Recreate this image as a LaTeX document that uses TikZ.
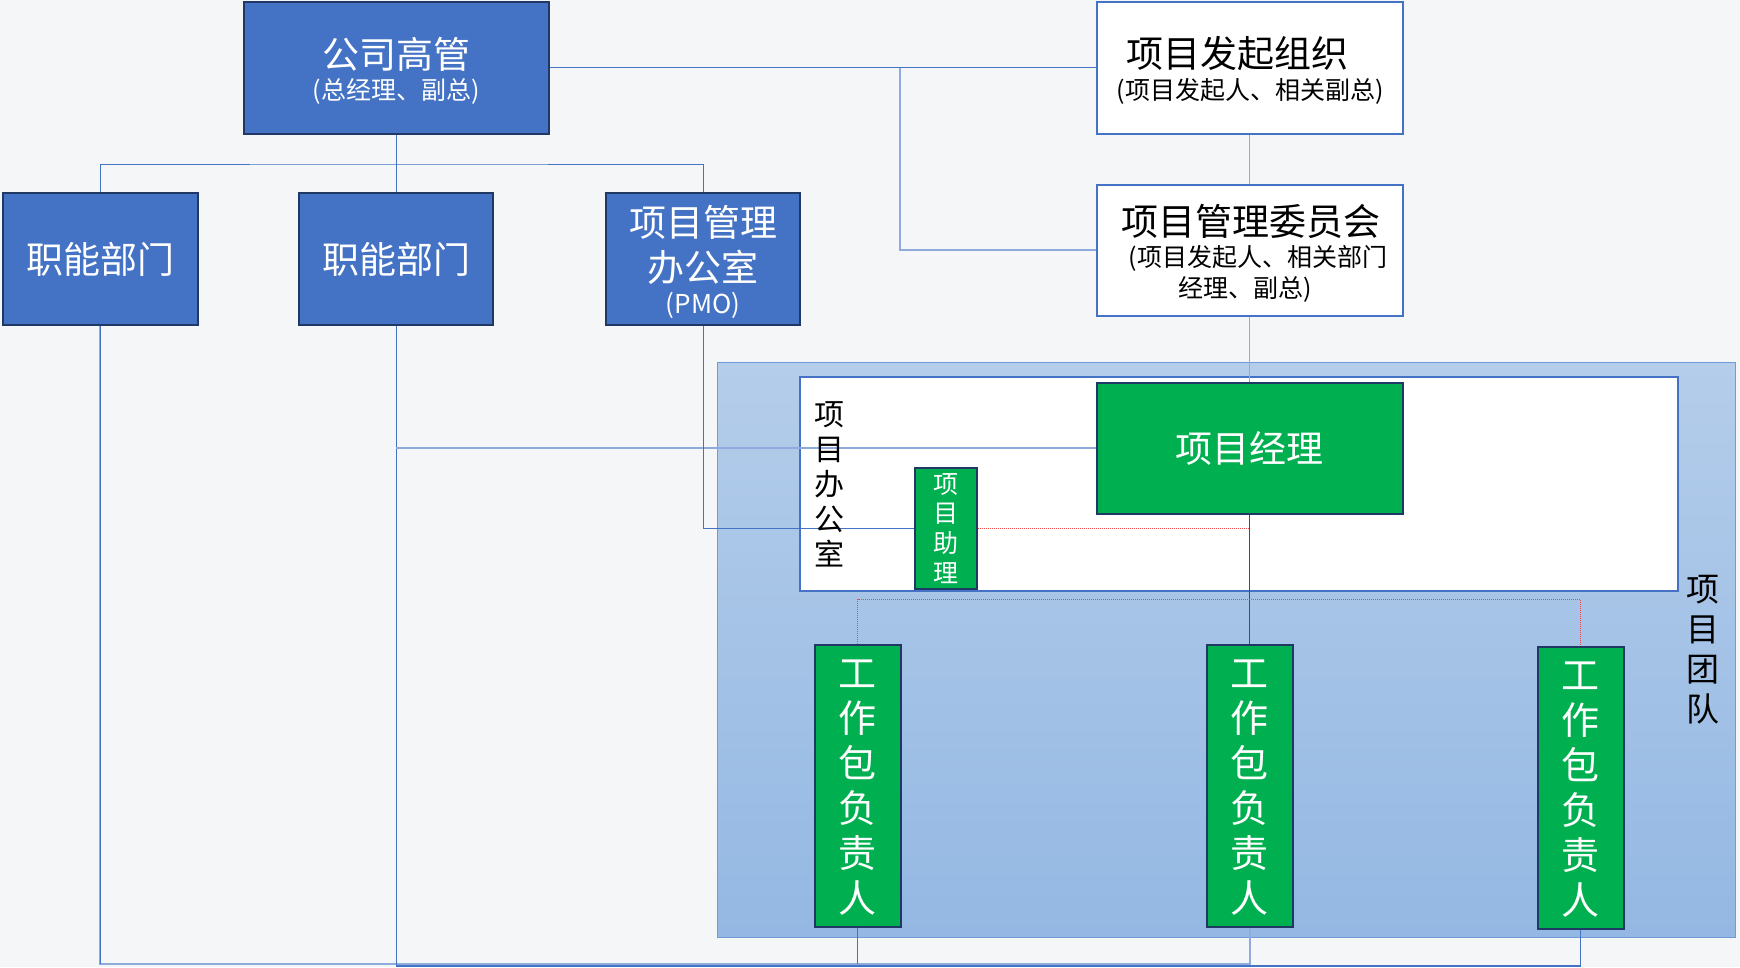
\documentclass[tikz,border=0pt]{standalone}
\usepackage{fontspec}
\setmainfont{Noto Sans CJK SC}
\usetikzlibrary{calc}
\definecolor{canvas}{HTML}{F5F6F8}
\definecolor{boxblue}{HTML}{4472C4}
\definecolor{navy}{HTML}{1F3864}
\definecolor{leafgreen}{HTML}{00B050}
\definecolor{linkblue}{HTML}{4472C4}
\definecolor{softblue}{HTML}{8FAADC}
\definecolor{panelTop}{HTML}{B4CDEA}
\definecolor{panelBot}{HTML}{94B8E3}
\definecolor{panelEdge}{HTML}{6F9BD8}
\definecolor{dotred}{HTML}{F04848}
\begin{document}
\begin{tikzpicture}[x=1pt,y=-1pt,
  bluebox/.style={draw=navy,line width=2pt,fill=boxblue,inner sep=0pt},
  whitebox/.style={draw=boxblue,line width=2pt,fill=white,inner sep=0pt},
  greenbox/.style={draw=navy,line width=2pt,fill=leafgreen,inner sep=0pt},
  panel/.style={draw=panelEdge,line width=1pt,top color=panelTop,bottom color=panelBot,inner sep=0pt},
  wtext/.style={text=white,inner sep=0pt,align=center},
  btext/.style={text=black,inner sep=0pt,align=center},
  big/.style={font=\fontsize{37}{44}\selectfont},
  small/.style={font=\fontsize{25}{30}\selectfont},
  link/.style={draw=linkblue,line width=1pt},
  softlink/.style={draw=softblue,line width=1.5pt},
  redlink/.style={draw=red,line width=1pt},
  reddots/.style={draw=dotred,line width=1pt,densely dotted}
]
\useasboundingbox (0,0) rectangle (1740,967);
\fill[canvas] (0,0) rectangle (1740,967);

% containers
\node[panel,minimum width=1018,minimum height=575] (team) at (1226,649.5) {};
\node[whitebox,minimum width=878,minimum height=214] (office) at (1239,483.7) {};

% boxes
\node[bluebox,minimum width=305,minimum height=132] (top) at (396,67.5) {};
\node[whitebox,minimum width=306,minimum height=132] (init) at (1249.5,67.5) {};
\node[bluebox,minimum width=195,minimum height=132] (dept1) at (100,258.5) {};
\node[bluebox,minimum width=194,minimum height=132] (dept2) at (396,258.5) {};
\node[bluebox,minimum width=194,minimum height=132] (pmo) at (703,258.5) {};
\node[whitebox,minimum width=306,minimum height=131] (committee) at (1249.5,250) {};
\node[greenbox,minimum width=306,minimum height=131] (pm) at (1249.5,448) {};
\node[greenbox,minimum width=62,minimum height=121] (asst) at (946,528) {};
\node[greenbox,minimum width=86,minimum height=282] (wp1) at (857.5,785.5) {};
\node[greenbox,minimum width=86,minimum height=282] (wp2) at (1249.5,785.5) {};
\node[greenbox,minimum width=86,minimum height=282] (wp3) at (1580.5,787.5) {};

% connectors
\coordinate (j1) at (900,67.5);
\coordinate (bus) at (396,164);
\coordinate (b1) at (1249.5,963.5);
\coordinate (b2) at (1580.5,966);
\coordinate (rbus) at (1580.5,599);
\draw[link,line width=1.5pt] (top.east) -- (init.west);
\draw[softlink] (j1) |- (committee.west);
\draw[softlink] (init.south) -- (committee.north);
\draw[softlink] (committee.south) -- (pm.north);
\draw[link] (top.south) -- (dept2.north);
\draw[link] (dept1.north) |- (bus) -| (pmo.north);
\draw[softlink,line width=2pt] (dept1.south) |- (b1) -- (wp2.south);
\draw[link] (dept1.south) -- (dept1.south |- b1);
\draw[link] (wp1.south) -- (wp1.south |- b1);
\draw[link] (dept2.south) -- (dept2.south |- b2);
\draw[link,line width=2pt] (dept2.south |- b2) -- (b2);
\draw[link] (b2) -- (wp3.south);
\draw[softlink] (dept2.south |- pm.west) -- (pm.west);
\draw[link] (pmo.south) |- (asst.west);
\draw[reddots] (asst.east) -- (asst.east -| pm.south);
\draw[redlink] (pm.south) -- (wp2.north);
\draw[reddots] (wp1.north) |- (rbus) -- (wp3.north);

% labels
\node[wtext,big] (topT) at (396,54) {公司高管};
\node[wtext,small] (topS) at (396,91) {(总经理、副总)};
\node[btext,big] (initT) at (1237,54) {项目发起组织};
\node[btext,small] (initS) at (1250,91) {(项目发起人、相关副总)};
\node[wtext,big] (d1T) at (100,259.5) {职能部门};
\node[wtext,big] (d2T) at (396,259.5) {职能部门};
\node[wtext,big] (pmoT1) at (703,222.5) {项目管理};
\node[wtext,big] (pmoT2) at (703,267.5) {办公室};
\node[wtext,font=\fontsize{26}{30}\selectfont] (pmoT3) at (703,305) {(PMO)};
\node[btext,big] (comT) at (1251,221.7) {项目管理委员会};
\node[btext,small] (comS1) at (1258,258) {(项目发起人、相关部门};
\node[btext,small] (comS2) at (1245,289) {经理、副总)};
\node[wtext,big] (pmT) at (1249.5,448.5) {项目经理};
\node[wtext,font=\fontsize{25}{29.8}\selectfont] (asstT) at (946,528.5) {项\\目\\助\\理};
\node[wtext,font=\fontsize{38}{45}\selectfont] (wp1T) at (857.5,787.5) {工\\作\\包\\负\\责\\人};
\node[wtext,font=\fontsize{38}{45}\selectfont] (wp2T) at (1249.5,787.5) {工\\作\\包\\负\\责\\人};
\node[wtext,font=\fontsize{38}{45}\selectfont] (wp3T) at (1580.5,789.5) {工\\作\\包\\负\\责\\人};
\node[btext,font=\fontsize{30}{35}\selectfont] (officeT) at (829.5,484.5) {项\\目\\办\\公\\室};
\node[btext,font=\fontsize{33}{40}\selectfont] (teamT) at (1703,650) {项\\目\\团\\队};
\end{tikzpicture}
\end{document}
